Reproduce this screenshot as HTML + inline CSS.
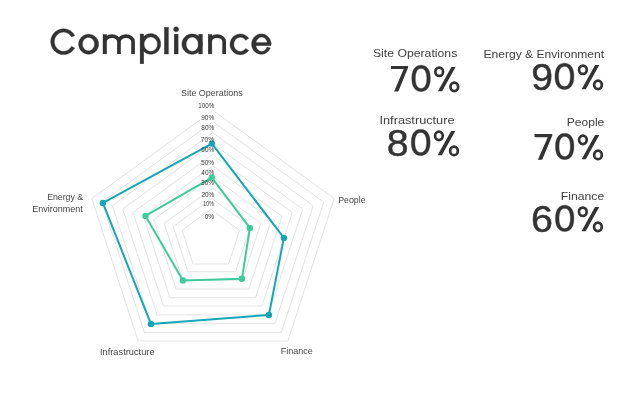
<!DOCTYPE html>
<html><head><meta charset="utf-8"><style>
html,body{margin:0;padding:0;background:#fff;width:634px;height:402px;overflow:hidden}
svg{position:absolute;left:0;top:0;will-change:transform}
text{font-family:"Liberation Sans",sans-serif}
</style></head><body>
<svg width="634" height="402" viewBox="0 0 634 402">
<g fill="none" stroke="#e3e3e3" stroke-width="1"><polygon points="210.85,209.40 239.57,230.27 228.60,264.03 193.10,264.03 182.13,230.27"/><polygon points="211.80,198.50 250.32,226.48 235.61,271.77 187.99,271.77 173.28,226.48"/><polygon points="212.50,188.20 260.81,223.30 242.36,280.10 182.64,280.10 164.19,223.30"/><polygon points="212.50,176.80 271.47,219.64 248.94,288.96 176.06,288.96 153.53,219.64"/><polygon points="212.70,166.00 281.94,216.30 255.49,297.70 169.91,297.70 143.46,216.30"/><polygon points="212.70,154.60 292.30,212.44 261.90,306.01 163.50,306.01 133.10,212.44"/><polygon points="212.70,143.70 302.67,209.07 268.30,314.83 157.10,314.83 122.73,209.07"/><polygon points="212.80,132.70 313.23,205.67 274.87,323.73 150.73,323.73 112.37,205.67"/><polygon points="212.90,121.70 323.70,202.20 281.38,332.45 144.42,332.45 102.10,202.20"/><polygon points="213.00,110.50 334.16,198.53 287.88,340.97 138.12,340.97 91.84,198.53"/></g>
<polygon points="211.9,143.6 283.9,237.9 268.9,314.9 150.9,323.9 102.9,202.9" fill="none" stroke="#14a7b5" stroke-width="2.0" stroke-linejoin="round"/>
<polygon points="211.8,177.6 249.9,227.9 241.9,278.8 182.9,280.4 145.5,215.9" fill="none" stroke="#3dcb9d" stroke-width="2.0" stroke-linejoin="round"/>
<circle cx="211.9" cy="143.6" r="3.2" fill="#14a7b5"/><circle cx="283.9" cy="237.9" r="3.2" fill="#14a7b5"/><circle cx="268.9" cy="314.9" r="3.2" fill="#14a7b5"/><circle cx="150.9" cy="323.9" r="3.2" fill="#14a7b5"/><circle cx="102.9" cy="202.9" r="3.2" fill="#14a7b5"/><circle cx="211.8" cy="177.6" r="3.2" fill="#3dcb9d"/><circle cx="249.9" cy="227.9" r="3.2" fill="#3dcb9d"/><circle cx="241.9" cy="278.8" r="3.2" fill="#3dcb9d"/><circle cx="182.9" cy="280.4" r="3.2" fill="#3dcb9d"/><circle cx="145.5" cy="215.9" r="3.2" fill="#3dcb9d"/>
<g transform="translate(434.00,66.20)"><ellipse cx="5.2" cy="5.55" rx="3.85" ry="4.2" fill="none" stroke="#333" stroke-width="2.7"/><ellipse cx="20.3" cy="20.65" rx="3.85" ry="4.25" fill="none" stroke="#333" stroke-width="2.7"/><polygon points="17.4,0.7 21.6,0.7 8.1,25 3.9,25" fill="#333"/></g><g transform="translate(577.70,64.20)"><ellipse cx="5.2" cy="5.55" rx="3.85" ry="4.2" fill="none" stroke="#333" stroke-width="2.7"/><ellipse cx="20.3" cy="20.65" rx="3.85" ry="4.25" fill="none" stroke="#333" stroke-width="2.7"/><polygon points="17.4,0.7 21.6,0.7 8.1,25 3.9,25" fill="#333"/></g><g transform="translate(433.70,130.30)"><ellipse cx="5.2" cy="5.55" rx="3.85" ry="4.2" fill="none" stroke="#333" stroke-width="2.7"/><ellipse cx="20.3" cy="20.65" rx="3.85" ry="4.25" fill="none" stroke="#333" stroke-width="2.7"/><polygon points="17.4,0.7 21.6,0.7 8.1,25 3.9,25" fill="#333"/></g><g transform="translate(577.70,134.30)"><ellipse cx="5.2" cy="5.55" rx="3.85" ry="4.2" fill="none" stroke="#333" stroke-width="2.7"/><ellipse cx="20.3" cy="20.65" rx="3.85" ry="4.25" fill="none" stroke="#333" stroke-width="2.7"/><polygon points="17.4,0.7 21.6,0.7 8.1,25 3.9,25" fill="#333"/></g><g transform="translate(577.60,206.20)"><ellipse cx="5.2" cy="5.55" rx="3.85" ry="4.2" fill="none" stroke="#333" stroke-width="2.7"/><ellipse cx="20.3" cy="20.65" rx="3.85" ry="4.25" fill="none" stroke="#333" stroke-width="2.7"/><polygon points="17.4,0.7 21.6,0.7 8.1,25 3.9,25" fill="#333"/></g><g transform="translate(390.90,65.90) scale(1.0058,1)"><polygon points="0,0 17.1,0 17.1,1.6 7.4,25.7 3.2,25.7 12.7,3.2 0,3.2" fill="#333"/></g><g transform="translate(534.50,134.00) scale(1.0409,1)"><polygon points="0,0 17.1,0 17.1,1.6 7.4,25.7 3.2,25.7 12.7,3.2 0,3.2" fill="#333"/></g><g stroke="#333" stroke-width="0.4"><path fill="#333" d="M74.70,35.45 L74.15,34.54 L73.53,33.68 L72.84,32.88 L72.09,32.13 L71.28,31.45 L70.41,30.84 L69.50,30.31 L68.55,29.85 L67.57,29.47 L66.56,29.17 L65.52,28.96 L64.48,28.84 L63.42,28.80 L62.37,28.85 L61.33,28.99 L60.30,29.21 L59.29,29.52 L58.31,29.91 L57.36,30.38 L56.46,30.93 L55.60,31.55 L54.80,32.24 L54.06,32.99 L53.38,33.80 L52.77,34.67 L52.23,35.58 L51.77,36.54 L51.39,37.53 L51.09,38.55 L50.87,39.58 L50.74,40.64 L50.70,41.70 L50.74,42.76 L50.87,43.82 L51.09,44.85 L51.39,45.87 L51.77,46.86 L52.23,47.82 L52.77,48.73 L53.38,49.60 L54.06,50.41 L54.80,51.16 L55.60,51.85 L56.46,52.47 L57.36,53.02 L58.31,53.49 L59.29,53.88 L60.30,54.19 L61.33,54.41 L62.37,54.55 L63.42,54.60 L64.48,54.56 L65.52,54.44 L66.56,54.23 L67.57,53.93 L68.55,53.55 L69.50,53.09 L70.41,52.56 L71.28,51.95 L72.09,51.27 L72.84,50.52 L73.53,49.72 L74.15,48.86 L74.70,47.95 L71.46,46.35 L71.07,47.03 L70.63,47.67 L70.14,48.27 L69.60,48.82 L69.03,49.33 L68.41,49.78 L67.77,50.18 L67.09,50.52 L66.39,50.80 L65.67,51.02 L64.94,51.18 L64.19,51.27 L63.45,51.30 L62.70,51.26 L61.95,51.16 L61.22,50.99 L60.50,50.76 L59.81,50.47 L59.14,50.12 L58.49,49.72 L57.89,49.26 L57.32,48.74 L56.79,48.18 L56.30,47.58 L55.87,46.93 L55.49,46.25 L55.16,45.54 L54.89,44.81 L54.68,44.05 L54.52,43.27 L54.43,42.49 L54.40,41.70 L54.43,40.91 L54.52,40.13 L54.68,39.35 L54.89,38.59 L55.16,37.86 L55.49,37.15 L55.87,36.47 L56.30,35.82 L56.79,35.22 L57.32,34.66 L57.89,34.14 L58.49,33.68 L59.14,33.28 L59.81,32.93 L60.50,32.64 L61.22,32.41 L61.95,32.24 L62.70,32.14 L63.45,32.10 L64.19,32.13 L64.94,32.22 L65.67,32.38 L66.39,32.60 L67.09,32.88 L67.77,33.22 L68.41,33.62 L69.03,34.07 L69.60,34.58 L70.14,35.13 L70.63,35.73 L71.07,36.37 L71.46,37.05Z"/><path fill-rule="evenodd" fill="#333" d="M98.60,44.20 L98.55,45.18 L98.41,46.15 L98.17,47.10 L97.84,48.03 L97.42,48.91 L96.91,49.76 L96.33,50.54 L95.67,51.27 L94.94,51.93 L94.16,52.51 L93.31,53.02 L92.43,53.44 L91.50,53.77 L90.55,54.01 L89.58,54.15 L88.60,54.20 L87.62,54.15 L86.65,54.01 L85.70,53.77 L84.77,53.44 L83.89,53.02 L83.04,52.51 L82.26,51.93 L81.53,51.27 L80.87,50.54 L80.29,49.76 L79.78,48.91 L79.36,48.03 L79.03,47.10 L78.79,46.15 L78.65,45.18 L78.60,44.20 L78.65,43.22 L78.79,42.25 L79.03,41.30 L79.36,40.37 L79.78,39.49 L80.29,38.64 L80.87,37.86 L81.53,37.13 L82.26,36.47 L83.04,35.89 L83.89,35.38 L84.77,34.96 L85.70,34.63 L86.65,34.39 L87.62,34.25 L88.60,34.20 L89.58,34.25 L90.55,34.39 L91.50,34.63 L92.43,34.96 L93.31,35.38 L94.16,35.89 L94.94,36.47 L95.67,37.13 L96.33,37.86 L96.91,38.64 L97.42,39.49 L97.84,40.37 L98.17,41.30 L98.41,42.25 L98.55,43.22 L98.60,44.20Z M94.50,44.10 L94.47,44.76 L94.38,45.41 L94.24,46.04 L94.04,46.66 L93.79,47.26 L93.48,47.82 L93.13,48.35 L92.73,48.84 L92.29,49.28 L91.81,49.67 L91.30,50.01 L90.77,50.29 L90.21,50.51 L89.63,50.67 L89.04,50.77 L88.45,50.80 L87.86,50.77 L87.27,50.67 L86.69,50.51 L86.13,50.29 L85.60,50.01 L85.09,49.67 L84.61,49.28 L84.17,48.84 L83.77,48.35 L83.42,47.82 L83.11,47.26 L82.86,46.66 L82.66,46.04 L82.52,45.41 L82.43,44.76 L82.40,44.10 L82.43,43.44 L82.52,42.79 L82.66,42.16 L82.86,41.54 L83.11,40.94 L83.42,40.38 L83.77,39.85 L84.17,39.36 L84.61,38.92 L85.09,38.53 L85.60,38.19 L86.13,37.91 L86.69,37.69 L87.27,37.53 L87.86,37.43 L88.45,37.40 L89.04,37.43 L89.63,37.53 L90.21,37.69 L90.77,37.91 L91.30,38.19 L91.81,38.53 L92.29,38.92 L92.73,39.36 L93.13,39.85 L93.48,40.38 L93.79,40.94 L94.04,41.54 L94.24,42.16 L94.38,42.79 L94.47,43.44 L94.50,44.10Z"/><rect x="103.0" y="34.5" width="3.7" height="19.4" fill="#333"/><path d="M104.85,41.5 A7.05,5.3 0 0 1 118.95,41.5 L118.95,53.9 M118.95,41.5 A7.05,5.3 0 0 1 133.05,41.5 L133.05,53.9" fill="none" stroke="#333" stroke-width="3.7"/><rect x="140.1" y="34.0" width="3.6" height="29.8" fill="#333"/><path fill-rule="evenodd" fill="#333" d="M160.70,43.95 L160.65,44.96 L160.51,45.97 L160.27,46.95 L159.94,47.91 L159.53,48.83 L159.02,49.70 L158.44,50.52 L157.79,51.27 L157.06,51.95 L156.28,52.56 L155.44,53.08 L154.56,53.51 L153.64,53.85 L152.69,54.10 L151.73,54.25 L150.75,54.30 L149.77,54.25 L148.81,54.10 L147.86,53.85 L146.94,53.51 L146.06,53.08 L145.22,52.56 L144.44,51.95 L143.71,51.27 L143.06,50.52 L142.48,49.70 L141.97,48.83 L141.56,47.91 L141.23,46.95 L140.99,45.97 L140.85,44.96 L140.80,43.95 L140.85,42.94 L140.99,41.93 L141.23,40.95 L141.56,39.99 L141.97,39.07 L142.48,38.20 L143.06,37.38 L143.71,36.63 L144.44,35.95 L145.22,35.34 L146.06,34.82 L146.94,34.39 L147.86,34.05 L148.81,33.80 L149.77,33.65 L150.75,33.60 L151.73,33.65 L152.69,33.80 L153.64,34.05 L154.56,34.39 L155.44,34.82 L156.28,35.34 L157.06,35.95 L157.79,36.63 L158.44,37.38 L159.02,38.20 L159.53,39.07 L159.94,39.99 L160.27,40.95 L160.51,41.93 L160.65,42.94 L160.70,43.95Z M157.40,44.20 L157.37,44.91 L157.27,45.60 L157.11,46.29 L156.89,46.96 L156.61,47.59 L156.28,48.20 L155.89,48.77 L155.45,49.29 L154.97,49.77 L154.44,50.19 L153.88,50.55 L153.29,50.85 L152.68,51.09 L152.05,51.26 L151.40,51.37 L150.75,51.40 L150.10,51.37 L149.45,51.26 L148.82,51.09 L148.21,50.85 L147.62,50.55 L147.06,50.19 L146.53,49.77 L146.05,49.29 L145.61,48.77 L145.22,48.20 L144.89,47.59 L144.61,46.96 L144.39,46.29 L144.23,45.60 L144.13,44.91 L144.10,44.20 L144.13,43.49 L144.23,42.80 L144.39,42.11 L144.61,41.44 L144.89,40.81 L145.22,40.20 L145.61,39.63 L146.05,39.11 L146.53,38.63 L147.06,38.21 L147.62,37.85 L148.21,37.55 L148.82,37.31 L149.45,37.14 L150.10,37.03 L150.75,37.00 L151.40,37.03 L152.05,37.14 L152.68,37.31 L153.29,37.55 L153.88,37.85 L154.44,38.21 L154.97,38.63 L155.45,39.11 L155.89,39.63 L156.28,40.20 L156.61,40.81 L156.89,41.44 L157.11,42.11 L157.27,42.80 L157.37,43.49 L157.40,44.20Z"/><rect x="164.4" y="27.3" width="4.0" height="26.7" fill="#333"/><rect x="174.2" y="34.2" width="3.9" height="19.8" fill="#333"/><circle cx="176.1" cy="29.2" r="2.5" fill="#333"/><path fill-rule="evenodd" fill="#333" d="M202.30,44.10 L202.25,45.10 L202.10,46.09 L201.86,47.06 L201.52,48.00 L201.10,48.91 L200.58,49.77 L199.98,50.57 L199.31,51.31 L198.57,51.98 L197.77,52.58 L196.91,53.10 L196.00,53.52 L195.06,53.86 L194.09,54.10 L193.10,54.25 L192.10,54.30 L191.10,54.25 L190.11,54.10 L189.14,53.86 L188.20,53.52 L187.29,53.10 L186.43,52.58 L185.63,51.98 L184.89,51.31 L184.22,50.57 L183.62,49.77 L183.10,48.91 L182.68,48.00 L182.34,47.06 L182.10,46.09 L181.95,45.10 L181.90,44.10 L181.95,43.10 L182.10,42.11 L182.34,41.14 L182.68,40.20 L183.10,39.29 L183.62,38.43 L184.22,37.63 L184.89,36.89 L185.63,36.22 L186.43,35.62 L187.29,35.10 L188.20,34.68 L189.14,34.34 L190.11,34.10 L191.10,33.95 L192.10,33.90 L193.10,33.95 L194.09,34.10 L195.06,34.34 L196.00,34.68 L196.91,35.10 L197.77,35.62 L198.57,36.22 L199.31,36.89 L199.98,37.63 L200.58,38.43 L201.10,39.29 L201.52,40.20 L201.86,41.14 L202.10,42.11 L202.25,43.10 L202.30,44.10Z M198.35,44.25 L198.32,44.95 L198.23,45.64 L198.09,46.33 L197.89,46.99 L197.63,47.62 L197.32,48.22 L196.97,48.79 L196.56,49.31 L196.12,49.78 L195.64,50.20 L195.13,50.56 L194.58,50.86 L194.02,51.09 L193.44,51.26 L192.85,51.37 L192.25,51.40 L191.65,51.37 L191.06,51.26 L190.48,51.09 L189.92,50.86 L189.37,50.56 L188.86,50.20 L188.38,49.78 L187.94,49.31 L187.53,48.79 L187.18,48.22 L186.87,47.62 L186.61,46.99 L186.41,46.33 L186.27,45.64 L186.18,44.95 L186.15,44.25 L186.18,43.55 L186.27,42.86 L186.41,42.17 L186.61,41.51 L186.87,40.88 L187.18,40.28 L187.53,39.71 L187.94,39.19 L188.38,38.72 L188.86,38.30 L189.37,37.94 L189.92,37.64 L190.48,37.41 L191.06,37.24 L191.65,37.13 L192.25,37.10 L192.85,37.13 L193.44,37.24 L194.02,37.41 L194.58,37.64 L195.13,37.94 L195.64,38.30 L196.12,38.72 L196.56,39.19 L196.97,39.71 L197.32,40.28 L197.63,40.88 L197.89,41.51 L198.09,42.17 L198.23,42.86 L198.32,43.55 L198.35,44.25Z"/><rect x="198.8" y="34.2" width="3.6" height="19.8" fill="#333"/><rect x="208.2" y="34.4" width="3.7" height="19.5" fill="#333"/><path d="M210.05,41.5 A7.05,5.45 0 0 1 224.15,41.5 L224.15,53.9" fill="none" stroke="#333" stroke-width="3.7"/><path fill="#333" d="M248.72,38.27 L248.22,37.63 L247.67,37.03 L247.07,36.48 L246.43,35.98 L245.76,35.53 L245.05,35.13 L244.31,34.79 L243.55,34.51 L242.77,34.29 L241.97,34.13 L241.16,34.03 L240.35,34.00 L239.54,34.03 L238.73,34.13 L237.93,34.29 L237.15,34.51 L236.39,34.79 L235.65,35.13 L234.94,35.53 L234.27,35.98 L233.63,36.48 L233.03,37.03 L232.48,37.63 L231.98,38.27 L231.53,38.94 L231.13,39.65 L230.79,40.39 L230.51,41.15 L230.29,41.93 L230.13,42.73 L230.03,43.54 L230.00,44.35 L230.03,45.16 L230.13,45.97 L230.29,46.77 L230.51,47.55 L230.79,48.31 L231.13,49.05 L231.53,49.76 L231.98,50.43 L232.48,51.07 L233.03,51.67 L233.63,52.22 L234.27,52.72 L234.94,53.17 L235.65,53.57 L236.39,53.91 L237.15,54.19 L237.93,54.41 L238.73,54.57 L239.54,54.67 L240.35,54.70 L241.16,54.67 L241.97,54.57 L242.77,54.41 L243.55,54.19 L244.31,53.91 L245.05,53.57 L245.76,53.17 L246.43,52.72 L247.07,52.22 L247.67,51.67 L248.22,51.07 L248.72,50.43 L245.65,48.49 L245.33,48.93 L244.98,49.34 L244.60,49.71 L244.20,50.05 L243.77,50.36 L243.32,50.63 L242.86,50.86 L242.37,51.05 L241.88,51.21 L241.37,51.31 L240.86,51.38 L240.35,51.40 L239.84,51.38 L239.33,51.31 L238.82,51.21 L238.33,51.05 L237.84,50.86 L237.38,50.63 L236.93,50.36 L236.50,50.05 L236.10,49.71 L235.72,49.34 L235.37,48.93 L235.05,48.49 L234.77,48.03 L234.51,47.55 L234.30,47.05 L234.12,46.53 L233.98,46.00 L233.88,45.45 L233.82,44.90 L233.80,44.35 L233.82,43.80 L233.88,43.25 L233.98,42.70 L234.12,42.17 L234.30,41.65 L234.51,41.15 L234.77,40.67 L235.05,40.21 L235.37,39.77 L235.72,39.36 L236.10,38.99 L236.50,38.65 L236.93,38.34 L237.38,38.07 L237.84,37.84 L238.33,37.65 L238.82,37.49 L239.33,37.39 L239.84,37.32 L240.35,37.30 L240.86,37.32 L241.37,37.39 L241.88,37.49 L242.37,37.65 L242.86,37.84 L243.32,38.07 L243.77,38.34 L244.20,38.65 L244.60,38.99 L244.98,39.36 L245.33,39.77 L245.65,40.21Z"/><path fill="#333" d="M271.00,44.10 L270.96,43.16 L270.84,42.23 L270.63,41.32 L270.35,40.42 L269.99,39.56 L269.55,38.74 L269.05,37.97 L268.48,37.24 L267.85,36.58 L267.16,35.97 L266.43,35.44 L265.65,34.98 L264.83,34.60 L263.98,34.30 L263.11,34.08 L262.23,33.95 L261.34,33.90 L260.44,33.94 L259.56,34.07 L258.69,34.28 L257.84,34.57 L257.02,34.95 L256.24,35.40 L255.50,35.93 L254.81,36.52 L254.17,37.18 L253.59,37.90 L253.09,38.68 L252.65,39.49 L252.28,40.35 L251.99,41.24 L251.78,42.15 L251.65,43.08 L251.60,44.02 L251.63,44.96 L251.75,45.89 L251.95,46.81 L252.23,47.70 L252.58,48.57 L253.01,49.39 L253.51,50.17 L254.07,50.90 L254.70,51.57 L255.38,52.18 L256.11,52.72 L256.89,53.18 L257.70,53.57 L258.55,53.88 L259.41,54.11 L260.30,54.25 L261.19,54.30 L262.08,54.27 L262.97,54.15 L263.84,53.94 L264.69,53.66 L265.51,53.29 L266.30,52.84 L267.04,52.32 L267.74,51.73 L268.38,51.07 L268.96,50.36 L269.48,49.59 L269.92,48.78 L270.29,47.92 L267.07,46.93 L266.85,47.53 L266.58,48.10 L266.27,48.64 L265.92,49.14 L265.53,49.60 L265.11,50.01 L264.67,50.38 L264.19,50.69 L263.70,50.95 L263.18,51.15 L262.66,51.29 L262.12,51.38 L261.58,51.40 L261.04,51.36 L260.51,51.26 L259.99,51.11 L259.48,50.89 L258.99,50.62 L258.52,50.29 L258.08,49.91 L257.67,49.49 L257.29,49.02 L256.95,48.51 L256.65,47.96 L256.39,47.38 L256.18,46.78 L256.01,46.15 L255.89,45.51 L255.82,44.85 L255.80,44.20 L255.83,43.54 L255.91,42.89 L256.03,42.25 L256.21,41.62 L256.43,41.02 L256.70,40.45 L257.00,39.91 L257.35,39.40 L257.73,38.94 L258.15,38.52 L258.60,38.15 L259.07,37.83 L259.56,37.57 L260.07,37.36 L260.60,37.22 L261.13,37.13 L261.67,37.10 L262.21,37.13 L262.74,37.23 L263.27,37.38 L263.78,37.59 L264.27,37.86 L264.74,38.18 L265.19,38.55 L265.60,38.98 L265.98,39.44 L266.32,39.95 L266.63,40.49 L266.89,41.07 L267.11,41.67 L267.28,42.30 L267.40,42.94 L267.48,43.59 L267.50,44.25Z"/><rect x="255" y="42.6" width="16.0" height="3.0" fill="#333"/><path fill-rule="evenodd" fill="#333" d="M430.30,78.35 L430.28,79.57 L430.23,80.57 L430.15,81.50 L430.03,82.38 L429.87,83.21 L429.68,84.01 L429.46,84.77 L429.21,85.49 L428.93,86.18 L428.61,86.83 L428.27,87.43 L427.89,88.00 L427.49,88.53 L427.06,89.02 L426.60,89.47 L426.11,89.87 L425.60,90.22 L425.06,90.53 L424.50,90.80 L423.91,91.01 L423.28,91.18 L422.62,91.30 L421.91,91.38 L421.05,91.40 L420.19,91.38 L419.48,91.30 L418.82,91.18 L418.19,91.01 L417.60,90.80 L417.04,90.53 L416.50,90.22 L415.99,89.87 L415.50,89.47 L415.04,89.02 L414.61,88.53 L414.21,88.00 L413.83,87.43 L413.49,86.83 L413.17,86.18 L412.89,85.49 L412.64,84.77 L412.42,84.01 L412.23,83.21 L412.07,82.38 L411.95,81.50 L411.87,80.57 L411.82,79.57 L411.80,78.35 L411.82,77.13 L411.87,76.13 L411.95,75.20 L412.07,74.32 L412.23,73.49 L412.42,72.69 L412.64,71.93 L412.89,71.21 L413.17,70.52 L413.49,69.87 L413.83,69.27 L414.21,68.70 L414.61,68.17 L415.04,67.68 L415.50,67.23 L415.99,66.83 L416.50,66.48 L417.04,66.17 L417.60,65.90 L418.19,65.69 L418.82,65.52 L419.48,65.40 L420.19,65.32 L421.05,65.30 L421.91,65.32 L422.62,65.40 L423.28,65.52 L423.91,65.69 L424.50,65.90 L425.06,66.17 L425.60,66.48 L426.11,66.83 L426.60,67.23 L427.06,67.68 L427.49,68.17 L427.89,68.70 L428.27,69.27 L428.61,69.87 L428.93,70.52 L429.21,71.21 L429.46,71.93 L429.68,72.69 L429.87,73.49 L430.03,74.32 L430.15,75.20 L430.23,76.13 L430.28,77.13Z M426.75,78.40 L426.74,79.33 L426.71,80.10 L426.65,80.81 L426.58,81.49 L426.49,82.13 L426.37,82.74 L426.24,83.32 L426.08,83.87 L425.90,84.40 L425.71,84.89 L425.50,85.36 L425.27,85.80 L425.02,86.20 L424.75,86.58 L424.47,86.92 L424.17,87.22 L423.85,87.50 L423.52,87.73 L423.17,87.94 L422.81,88.10 L422.43,88.23 L422.02,88.33 L421.58,88.38 L421.05,88.40 L420.52,88.38 L420.08,88.33 L419.67,88.23 L419.29,88.10 L418.93,87.94 L418.58,87.73 L418.25,87.50 L417.93,87.22 L417.63,86.92 L417.35,86.58 L417.08,86.20 L416.83,85.80 L416.60,85.36 L416.39,84.89 L416.20,84.40 L416.02,83.87 L415.86,83.32 L415.73,82.74 L415.61,82.13 L415.52,81.49 L415.45,80.81 L415.39,80.10 L415.36,79.33 L415.35,78.40 L415.36,77.47 L415.39,76.70 L415.45,75.99 L415.52,75.31 L415.61,74.67 L415.73,74.06 L415.86,73.48 L416.02,72.93 L416.20,72.40 L416.39,71.91 L416.60,71.44 L416.83,71.00 L417.08,70.60 L417.35,70.22 L417.63,69.88 L417.93,69.58 L418.25,69.30 L418.58,69.07 L418.93,68.86 L419.29,68.70 L419.67,68.57 L420.08,68.47 L420.52,68.42 L421.05,68.40 L421.58,68.42 L422.02,68.47 L422.43,68.57 L422.81,68.70 L423.17,68.86 L423.52,69.07 L423.85,69.30 L424.17,69.58 L424.47,69.88 L424.75,70.22 L425.02,70.60 L425.27,71.00 L425.50,71.44 L425.71,71.91 L425.90,72.40 L426.08,72.93 L426.24,73.48 L426.37,74.06 L426.49,74.67 L426.58,75.31 L426.65,75.99 L426.71,76.70 L426.74,77.47Z"/><path fill-rule="evenodd" fill="#333" d="M573.90,76.35 L573.88,77.57 L573.83,78.57 L573.74,79.50 L573.62,80.38 L573.46,81.21 L573.27,82.01 L573.05,82.77 L572.79,83.49 L572.50,84.18 L572.18,84.83 L571.82,85.43 L571.44,86.00 L571.03,86.53 L570.59,87.02 L570.12,87.47 L569.62,87.87 L569.10,88.22 L568.55,88.53 L567.97,88.80 L567.37,89.01 L566.73,89.18 L566.06,89.30 L565.33,89.38 L564.45,89.40 L563.57,89.38 L562.84,89.30 L562.17,89.18 L561.53,89.01 L560.93,88.80 L560.35,88.53 L559.80,88.22 L559.28,87.87 L558.78,87.47 L558.31,87.02 L557.87,86.53 L557.46,86.00 L557.08,85.43 L556.72,84.83 L556.40,84.18 L556.11,83.49 L555.85,82.77 L555.63,82.01 L555.44,81.21 L555.28,80.38 L555.16,79.50 L555.07,78.57 L555.02,77.57 L555.00,76.35 L555.02,75.13 L555.07,74.13 L555.16,73.20 L555.28,72.32 L555.44,71.49 L555.63,70.69 L555.85,69.93 L556.11,69.21 L556.40,68.52 L556.72,67.87 L557.08,67.27 L557.46,66.70 L557.87,66.17 L558.31,65.68 L558.78,65.23 L559.28,64.83 L559.80,64.48 L560.35,64.17 L560.93,63.90 L561.53,63.69 L562.17,63.52 L562.84,63.40 L563.57,63.32 L564.45,63.30 L565.33,63.32 L566.06,63.40 L566.73,63.52 L567.37,63.69 L567.97,63.90 L568.55,64.17 L569.10,64.48 L569.62,64.83 L570.12,65.23 L570.59,65.68 L571.03,66.17 L571.44,66.70 L571.82,67.27 L572.18,67.87 L572.50,68.52 L572.79,69.21 L573.05,69.93 L573.27,70.69 L573.46,71.49 L573.62,72.32 L573.74,73.20 L573.83,74.13 L573.88,75.13Z M570.35,76.40 L570.34,77.33 L570.31,78.10 L570.25,78.81 L570.17,79.49 L570.08,80.13 L569.96,80.74 L569.82,81.32 L569.66,81.87 L569.48,82.40 L569.27,82.89 L569.05,83.36 L568.81,83.80 L568.56,84.20 L568.28,84.58 L567.99,84.92 L567.68,85.22 L567.35,85.50 L567.01,85.73 L566.65,85.94 L566.27,86.10 L565.87,86.23 L565.45,86.33 L565.00,86.38 L564.45,86.40 L563.90,86.38 L563.45,86.33 L563.03,86.23 L562.63,86.10 L562.25,85.94 L561.89,85.73 L561.55,85.50 L561.22,85.22 L560.91,84.92 L560.62,84.58 L560.34,84.20 L560.09,83.80 L559.85,83.36 L559.63,82.89 L559.42,82.40 L559.24,81.87 L559.08,81.32 L558.94,80.74 L558.82,80.13 L558.73,79.49 L558.65,78.81 L558.59,78.10 L558.56,77.33 L558.55,76.40 L558.56,75.47 L558.59,74.70 L558.65,73.99 L558.73,73.31 L558.82,72.67 L558.94,72.06 L559.08,71.48 L559.24,70.93 L559.42,70.40 L559.63,69.91 L559.85,69.44 L560.09,69.00 L560.34,68.60 L560.62,68.22 L560.91,67.88 L561.22,67.58 L561.55,67.30 L561.89,67.07 L562.25,66.86 L562.63,66.70 L563.03,66.57 L563.45,66.47 L563.90,66.42 L564.45,66.40 L565.00,66.42 L565.45,66.47 L565.87,66.57 L566.27,66.70 L566.65,66.86 L567.01,67.07 L567.35,67.30 L567.68,67.58 L567.99,67.88 L568.28,68.22 L568.56,68.60 L568.81,69.00 L569.05,69.44 L569.27,69.91 L569.48,70.40 L569.66,70.93 L569.82,71.48 L569.96,72.06 L570.08,72.67 L570.17,73.31 L570.25,73.99 L570.31,74.70 L570.34,75.47Z"/><path fill-rule="evenodd" fill="#333" d="M430.10,142.45 L430.08,143.67 L430.03,144.67 L429.94,145.60 L429.82,146.48 L429.66,147.31 L429.47,148.11 L429.25,148.87 L428.99,149.59 L428.71,150.28 L428.39,150.93 L428.04,151.53 L427.65,152.10 L427.24,152.63 L426.81,153.12 L426.34,153.57 L425.84,153.97 L425.32,154.32 L424.78,154.63 L424.20,154.90 L423.60,155.11 L422.97,155.28 L422.30,155.40 L421.58,155.48 L420.70,155.50 L419.82,155.48 L419.10,155.40 L418.43,155.28 L417.80,155.11 L417.20,154.90 L416.62,154.63 L416.08,154.32 L415.56,153.97 L415.06,153.57 L414.59,153.12 L414.16,152.63 L413.75,152.10 L413.36,151.53 L413.01,150.93 L412.69,150.28 L412.41,149.59 L412.15,148.87 L411.93,148.11 L411.74,147.31 L411.58,146.48 L411.46,145.60 L411.37,144.67 L411.32,143.67 L411.30,142.45 L411.32,141.23 L411.37,140.23 L411.46,139.30 L411.58,138.42 L411.74,137.59 L411.93,136.79 L412.15,136.03 L412.41,135.31 L412.69,134.62 L413.01,133.97 L413.36,133.37 L413.75,132.80 L414.16,132.27 L414.59,131.78 L415.06,131.33 L415.56,130.93 L416.08,130.58 L416.62,130.27 L417.20,130.00 L417.80,129.79 L418.43,129.62 L419.10,129.50 L419.82,129.42 L420.70,129.40 L421.58,129.42 L422.30,129.50 L422.97,129.62 L423.60,129.79 L424.20,130.00 L424.78,130.27 L425.32,130.58 L425.84,130.93 L426.34,131.33 L426.81,131.78 L427.24,132.27 L427.65,132.80 L428.04,133.37 L428.39,133.97 L428.71,134.62 L428.99,135.31 L429.25,136.03 L429.47,136.79 L429.66,137.59 L429.82,138.42 L429.94,139.30 L430.03,140.23 L430.08,141.23Z M426.55,142.50 L426.54,143.43 L426.51,144.20 L426.45,144.91 L426.38,145.59 L426.28,146.23 L426.16,146.84 L426.02,147.42 L425.86,147.97 L425.68,148.50 L425.48,148.99 L425.26,149.46 L425.03,149.90 L424.77,150.30 L424.50,150.68 L424.21,151.02 L423.90,151.32 L423.58,151.60 L423.24,151.83 L422.88,152.04 L422.51,152.20 L422.11,152.33 L421.70,152.43 L421.25,152.48 L420.70,152.50 L420.15,152.48 L419.70,152.43 L419.29,152.33 L418.89,152.20 L418.52,152.04 L418.16,151.83 L417.82,151.60 L417.50,151.32 L417.19,151.02 L416.90,150.68 L416.63,150.30 L416.37,149.90 L416.14,149.46 L415.92,148.99 L415.72,148.50 L415.54,147.97 L415.38,147.42 L415.24,146.84 L415.12,146.23 L415.02,145.59 L414.95,144.91 L414.89,144.20 L414.86,143.43 L414.85,142.50 L414.86,141.57 L414.89,140.80 L414.95,140.09 L415.02,139.41 L415.12,138.77 L415.24,138.16 L415.38,137.58 L415.54,137.03 L415.72,136.50 L415.92,136.01 L416.14,135.54 L416.37,135.10 L416.63,134.70 L416.90,134.32 L417.19,133.98 L417.50,133.68 L417.82,133.40 L418.16,133.17 L418.52,132.96 L418.89,132.80 L419.29,132.67 L419.70,132.57 L420.15,132.52 L420.70,132.50 L421.25,132.52 L421.70,132.57 L422.11,132.67 L422.51,132.80 L422.88,132.96 L423.24,133.17 L423.58,133.40 L423.90,133.68 L424.21,133.98 L424.50,134.32 L424.77,134.70 L425.03,135.10 L425.26,135.54 L425.48,136.01 L425.68,136.50 L425.86,137.03 L426.02,137.58 L426.16,138.16 L426.28,138.77 L426.38,139.41 L426.45,140.09 L426.51,140.80 L426.54,141.57Z"/><path fill-rule="evenodd" fill="#333" d="M573.90,146.45 L573.88,147.67 L573.83,148.67 L573.75,149.60 L573.63,150.48 L573.47,151.31 L573.29,152.11 L573.07,152.87 L572.82,153.59 L572.54,154.28 L572.22,154.93 L571.88,155.53 L571.51,156.10 L571.10,156.63 L570.68,157.12 L570.22,157.57 L569.74,157.97 L569.23,158.32 L568.69,158.63 L568.13,158.90 L567.54,159.11 L566.92,159.28 L566.27,159.40 L565.56,159.48 L564.70,159.50 L563.84,159.48 L563.13,159.40 L562.48,159.28 L561.86,159.11 L561.27,158.90 L560.71,158.63 L560.17,158.32 L559.66,157.97 L559.18,157.57 L558.72,157.12 L558.30,156.63 L557.89,156.10 L557.52,155.53 L557.18,154.93 L556.86,154.28 L556.58,153.59 L556.33,152.87 L556.11,152.11 L555.93,151.31 L555.77,150.48 L555.65,149.60 L555.57,148.67 L555.52,147.67 L555.50,146.45 L555.52,145.23 L555.57,144.23 L555.65,143.30 L555.77,142.42 L555.93,141.59 L556.11,140.79 L556.33,140.03 L556.58,139.31 L556.86,138.62 L557.18,137.97 L557.52,137.37 L557.89,136.80 L558.30,136.27 L558.72,135.78 L559.18,135.33 L559.66,134.93 L560.17,134.58 L560.71,134.27 L561.27,134.00 L561.86,133.79 L562.48,133.62 L563.13,133.50 L563.84,133.42 L564.70,133.40 L565.56,133.42 L566.27,133.50 L566.92,133.62 L567.54,133.79 L568.13,134.00 L568.69,134.27 L569.23,134.58 L569.74,134.93 L570.22,135.33 L570.68,135.78 L571.10,136.27 L571.51,136.80 L571.88,137.37 L572.22,137.97 L572.54,138.62 L572.82,139.31 L573.07,140.03 L573.29,140.79 L573.47,141.59 L573.63,142.42 L573.75,143.30 L573.83,144.23 L573.88,145.23Z M570.35,146.50 L570.34,147.43 L570.31,148.20 L570.26,148.91 L570.18,149.59 L570.09,150.23 L569.97,150.84 L569.84,151.42 L569.69,151.97 L569.51,152.50 L569.32,152.99 L569.11,153.46 L568.88,153.90 L568.63,154.30 L568.37,154.68 L568.09,155.02 L567.79,155.32 L567.48,155.60 L567.15,155.83 L566.81,156.04 L566.44,156.20 L566.06,156.33 L565.66,156.43 L565.23,156.48 L564.70,156.50 L564.17,156.48 L563.74,156.43 L563.34,156.33 L562.96,156.20 L562.59,156.04 L562.25,155.83 L561.92,155.60 L561.61,155.32 L561.31,155.02 L561.03,154.68 L560.77,154.30 L560.52,153.90 L560.29,153.46 L560.08,152.99 L559.89,152.50 L559.71,151.97 L559.56,151.42 L559.43,150.84 L559.31,150.23 L559.22,149.59 L559.14,148.91 L559.09,148.20 L559.06,147.43 L559.05,146.50 L559.06,145.57 L559.09,144.80 L559.14,144.09 L559.22,143.41 L559.31,142.77 L559.43,142.16 L559.56,141.58 L559.71,141.03 L559.89,140.50 L560.08,140.01 L560.29,139.54 L560.52,139.10 L560.77,138.70 L561.03,138.32 L561.31,137.98 L561.61,137.68 L561.92,137.40 L562.25,137.17 L562.59,136.96 L562.96,136.80 L563.34,136.67 L563.74,136.57 L564.17,136.52 L564.70,136.50 L565.23,136.52 L565.66,136.57 L566.06,136.67 L566.44,136.80 L566.81,136.96 L567.15,137.17 L567.48,137.40 L567.79,137.68 L568.09,137.98 L568.37,138.32 L568.63,138.70 L568.88,139.10 L569.11,139.54 L569.32,140.01 L569.51,140.50 L569.69,141.03 L569.84,141.58 L569.97,142.16 L570.09,142.77 L570.18,143.41 L570.26,144.09 L570.31,144.80 L570.34,145.57Z"/><path fill-rule="evenodd" fill="#333" d="M573.90,218.35 L573.88,219.57 L573.83,220.57 L573.75,221.50 L573.63,222.38 L573.47,223.21 L573.29,224.01 L573.07,224.77 L572.82,225.49 L572.54,226.18 L572.22,226.83 L571.88,227.43 L571.51,228.00 L571.10,228.53 L570.68,229.02 L570.22,229.47 L569.74,229.87 L569.23,230.22 L568.69,230.53 L568.13,230.80 L567.54,231.01 L566.92,231.18 L566.27,231.30 L565.56,231.38 L564.70,231.40 L563.84,231.38 L563.13,231.30 L562.48,231.18 L561.86,231.01 L561.27,230.80 L560.71,230.53 L560.17,230.22 L559.66,229.87 L559.18,229.47 L558.72,229.02 L558.30,228.53 L557.89,228.00 L557.52,227.43 L557.18,226.83 L556.86,226.18 L556.58,225.49 L556.33,224.77 L556.11,224.01 L555.93,223.21 L555.77,222.38 L555.65,221.50 L555.57,220.57 L555.52,219.57 L555.50,218.35 L555.52,217.13 L555.57,216.13 L555.65,215.20 L555.77,214.32 L555.93,213.49 L556.11,212.69 L556.33,211.93 L556.58,211.21 L556.86,210.52 L557.18,209.87 L557.52,209.27 L557.89,208.70 L558.30,208.17 L558.72,207.68 L559.18,207.23 L559.66,206.83 L560.17,206.48 L560.71,206.17 L561.27,205.90 L561.86,205.69 L562.48,205.52 L563.13,205.40 L563.84,205.32 L564.70,205.30 L565.56,205.32 L566.27,205.40 L566.92,205.52 L567.54,205.69 L568.13,205.90 L568.69,206.17 L569.23,206.48 L569.74,206.83 L570.22,207.23 L570.68,207.68 L571.10,208.17 L571.51,208.70 L571.88,209.27 L572.22,209.87 L572.54,210.52 L572.82,211.21 L573.07,211.93 L573.29,212.69 L573.47,213.49 L573.63,214.32 L573.75,215.20 L573.83,216.13 L573.88,217.13Z M570.35,218.40 L570.34,219.33 L570.31,220.10 L570.26,220.81 L570.18,221.49 L570.09,222.13 L569.97,222.74 L569.84,223.32 L569.69,223.87 L569.51,224.40 L569.32,224.89 L569.11,225.36 L568.88,225.80 L568.63,226.20 L568.37,226.58 L568.09,226.92 L567.79,227.22 L567.48,227.50 L567.15,227.73 L566.81,227.94 L566.44,228.10 L566.06,228.23 L565.66,228.33 L565.23,228.38 L564.70,228.40 L564.17,228.38 L563.74,228.33 L563.34,228.23 L562.96,228.10 L562.59,227.94 L562.25,227.73 L561.92,227.50 L561.61,227.22 L561.31,226.92 L561.03,226.58 L560.77,226.20 L560.52,225.80 L560.29,225.36 L560.08,224.89 L559.89,224.40 L559.71,223.87 L559.56,223.32 L559.43,222.74 L559.31,222.13 L559.22,221.49 L559.14,220.81 L559.09,220.10 L559.06,219.33 L559.05,218.40 L559.06,217.47 L559.09,216.70 L559.14,215.99 L559.22,215.31 L559.31,214.67 L559.43,214.06 L559.56,213.48 L559.71,212.93 L559.89,212.40 L560.08,211.91 L560.29,211.44 L560.52,211.00 L560.77,210.60 L561.03,210.22 L561.31,209.88 L561.61,209.58 L561.92,209.30 L562.25,209.07 L562.59,208.86 L562.96,208.70 L563.34,208.57 L563.74,208.47 L564.17,208.42 L564.70,208.40 L565.23,208.42 L565.66,208.47 L566.06,208.57 L566.44,208.70 L566.81,208.86 L567.15,209.07 L567.48,209.30 L567.79,209.58 L568.09,209.88 L568.37,210.22 L568.63,210.60 L568.88,211.00 L569.11,211.44 L569.32,211.91 L569.51,212.40 L569.69,212.93 L569.84,213.48 L569.97,214.06 L570.09,214.67 L570.18,215.31 L570.26,215.99 L570.31,216.70 L570.34,217.47Z"/></g><text x="372.94" y="57.46" font-size="11.20" fill="#404040" textLength="84.33" lengthAdjust="spacingAndGlyphs">Site Operations</text>
<text x="483.56" y="58.27" font-size="11.20" fill="#404040" textLength="120.59" lengthAdjust="spacingAndGlyphs">Energy &amp; Environment</text>
<text x="379.49" y="124.04" font-size="11.20" fill="#404040" textLength="75.07" lengthAdjust="spacingAndGlyphs">Infrastructure</text>
<text x="566.71" y="126.22" font-size="11.20" fill="#404040" textLength="37.60" lengthAdjust="spacingAndGlyphs">People</text>
<text x="560.85" y="199.68" font-size="11.20" fill="#404040" textLength="43.41" lengthAdjust="spacingAndGlyphs">Finance</text>
<text x="180.99" y="95.55" font-size="8.55" fill="#444" textLength="61.63" lengthAdjust="spacingAndGlyphs">Site Operations</text>
<text x="47.15" y="199.83" font-size="8.55" fill="#444" textLength="35.89" lengthAdjust="spacingAndGlyphs">Energy &amp;</text>
<text x="32.21" y="212.28" font-size="8.55" fill="#444" textLength="50.64" lengthAdjust="spacingAndGlyphs">Environment</text>
<text x="338.21" y="203.46" font-size="8.55" fill="#444" textLength="27.35" lengthAdjust="spacingAndGlyphs">People</text>
<text x="99.95" y="354.68" font-size="8.55" fill="#444" textLength="54.67" lengthAdjust="spacingAndGlyphs">Infrastructure</text>
<text x="280.88" y="354.36" font-size="8.55" fill="#444" textLength="31.96" lengthAdjust="spacingAndGlyphs">Finance</text>
<text x="198.28" y="108.34" font-size="6.50" fill="#3a3a3a" textLength="15.98" lengthAdjust="spacingAndGlyphs">100%</text>
<text x="201.25" y="120.43" font-size="6.50" fill="#3a3a3a" textLength="12.97" lengthAdjust="spacingAndGlyphs">90%</text>
<text x="201.30" y="130.13" font-size="6.50" fill="#3a3a3a" textLength="12.91" lengthAdjust="spacingAndGlyphs">80%</text>
<text x="200.87" y="141.78" font-size="6.50" fill="#3a3a3a" textLength="13.30" lengthAdjust="spacingAndGlyphs">70%</text>
<text x="201.31" y="152.42" font-size="6.50" fill="#3a3a3a" textLength="12.91" lengthAdjust="spacingAndGlyphs">60%</text>
<text x="201.09" y="164.68" font-size="6.50" fill="#3a3a3a" textLength="13.10" lengthAdjust="spacingAndGlyphs">50%</text>
<text x="201.35" y="174.87" font-size="6.50" fill="#3a3a3a" textLength="12.87" lengthAdjust="spacingAndGlyphs">40%</text>
<text x="201.09" y="185.05" font-size="6.50" fill="#3a3a3a" textLength="13.08" lengthAdjust="spacingAndGlyphs">30%</text>
<text x="201.43" y="196.64" font-size="6.50" fill="#3a3a3a" textLength="12.79" lengthAdjust="spacingAndGlyphs">20%</text>
<text x="202.90" y="206.41" font-size="6.50" fill="#3a3a3a" textLength="11.07" lengthAdjust="spacingAndGlyphs">10%</text>
<text x="204.76" y="219.21" font-size="6.50" fill="#3a3a3a" textLength="9.39" lengthAdjust="spacingAndGlyphs">0%</text>
<text x="531.22" y="89.80" font-size="37.40" fill="#333" stroke="#333" stroke-width="0.45" textLength="21.76" lengthAdjust="spacingAndGlyphs">9</text>
<text x="386.83" y="155.90" font-size="37.40" fill="#333" stroke="#333" stroke-width="0.45" textLength="21.87" lengthAdjust="spacingAndGlyphs">8</text>
<text x="531.03" y="231.80" font-size="37.40" fill="#333" stroke="#333" stroke-width="0.45" textLength="21.91" lengthAdjust="spacingAndGlyphs">6</text>
</svg>
</body></html>
